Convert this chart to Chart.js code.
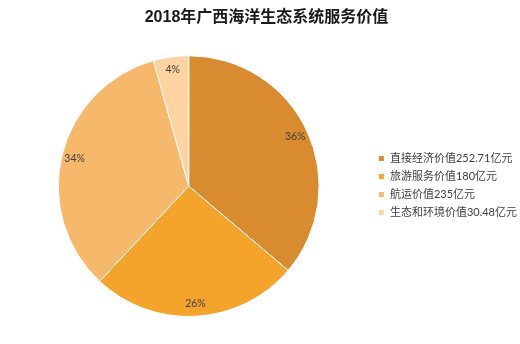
<!DOCTYPE html>
<html>
<head>
<meta charset="utf-8">
<script src="https://cdn.jsdelivr.net/npm/chart.js@4"></script>
<style>
  html, body { margin: 0; padding: 0; background: #fff; }
  #wrap { width: 520px; height: 344px; }
</style>
</head>
<body>
<div id="wrap"><canvas id="myChart" width="520" height="344"></canvas></div>
<script>
const labels = ['直接经济价值252.71亿元', '旅游服务价值180亿元', '航运价值235亿元', '生态和环境价值30.48亿元'];
const values = [252.71, 180, 235, 30.48];
const colors = ['#D98B2F', '#F4A42B', '#F6B86B', '#FDD4A1'];

const fontStack = "Lato, 'Noto Sans CJK SC', sans-serif";

// percentage text drawn inside each slice, near the rim
const sliceLabels = {
    id: 'sliceLabels',
    afterDatasetsDraw(chart) {
        const ctx = chart.ctx;
        const meta = chart.getDatasetMeta(0);
        const total = values.reduce((a, b) => a + b, 0);
        ctx.save();
        ctx.font = "10.5px " + fontStack;
        ctx.fillStyle = '#404040';
        ctx.textAlign = 'center';
        ctx.textBaseline = 'middle';
        meta.data.forEach((arc, i) => {
            const p = arc.getProps(['x', 'y', 'startAngle', 'endAngle', 'outerRadius']);
            const mid = (p.startAngle + p.endAngle) / 2;
            const r = p.outerRadius * 0.9;
            const pct = Math.round(values[i] / total * 100) + '%';
            ctx.fillText(pct, p.x + Math.cos(mid) * r, p.y + Math.sin(mid) * r);
        });
        ctx.restore();
    }
};

// nudge the legend block down and right of where the layout puts it
const legendNudge = {
    id: 'legendNudge',
    afterLayout(chart) {
        const lg = chart.legend;
        lg.left += 11; lg.right += 11;
        lg.top += 27; lg.bottom += 27;
    }
};

new Chart(document.getElementById('myChart'), {
    type: 'pie',
    data: {
        labels: labels,
        datasets: [{
            data: values,
            backgroundColor: colors,
            borderColor: '#ffffff',
            borderWidth: 1
        }]
    },
    options: {
        responsive: false,
        animation: false,
        layout: {
            padding: { left: 17, right: 4, top: 0, bottom: 27 }
        },
        plugins: {
            title: {
                display: true,
                text: '2018年广西海洋生态系统服务价值',
                color: '#1a1a1a',
                font: { family: "'Liberation Sans', 'Noto Sans CJK SC', sans-serif", size: 16, weight: 'bold' },
                padding: { top: 8, bottom: 28 }
            },
            legend: {
                position: 'right',
                labels: {
                    boxWidth: 6,
                    boxHeight: 6,
                    padding: 7,
                    color: '#404040',
                    font: { family: fontStack, size: 11 }
                }
            },
            tooltip: { enabled: false }
        }
    },
    plugins: [sliceLabels, legendNudge]
});
</script>
</body>
</html>
